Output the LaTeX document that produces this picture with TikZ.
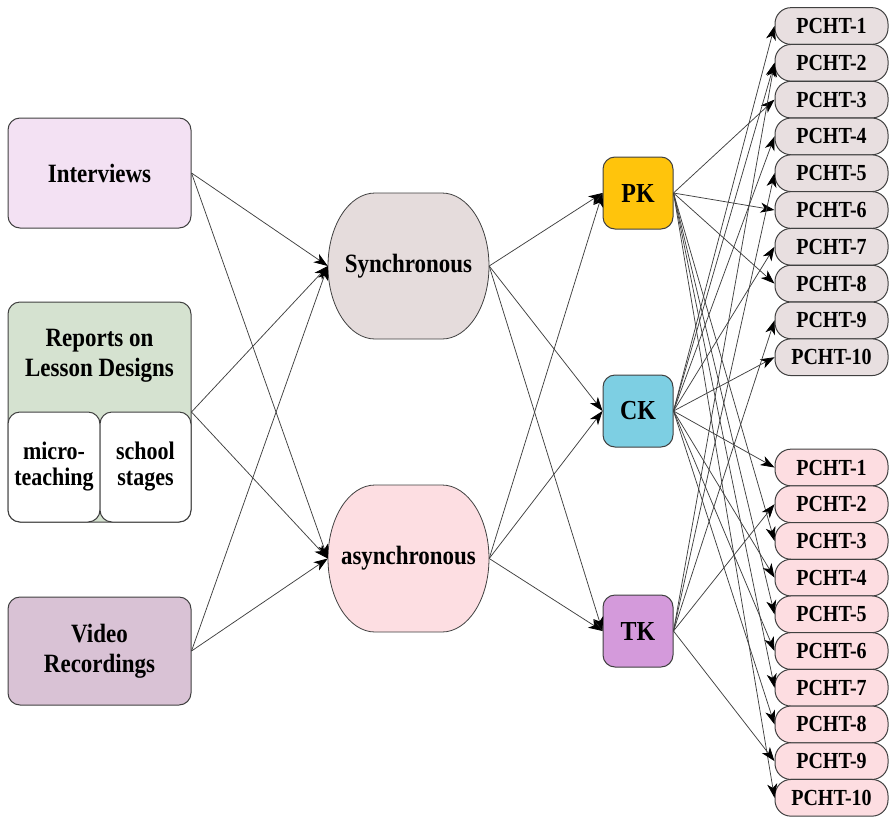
\documentclass[tikz,border=0pt]{standalone}
\usepackage{fontspec}
\setmainfont{Liberation Serif}
\newfontfamily\nfont[FakeStretch=0.87]{Liberation Serif}
\usetikzlibrary{arrows.meta}
\definecolor{cInt}{HTML}{F3E1F3}
\definecolor{cRep}{HTML}{D5E2D0}
\definecolor{cVid}{HTML}{D9C2D5}
\definecolor{cSync}{HTML}{E5DCDC}
\definecolor{cAsync}{HTML}{FDDEE2}
\definecolor{cTop}{HTML}{E8DFE0}
\definecolor{cBot}{HTML}{FDDDE1}
\definecolor{cPK}{HTML}{FFC40C}
\definecolor{cCK}{HTML}{7DCFE3}
\definecolor{cTK}{HTML}{D49ADB}
\definecolor{cLine}{HTML}{404040}
\tikzset{
  lbox/.style={draw=cLine, line width=1pt, rounded corners=12pt, align=center,
    inner sep=0pt, font=\nfont\bfseries\fontsize{26.4}{30}\selectfont},
  subbox/.style={draw=cLine, line width=1pt, rounded corners=12pt, fill=white, align=center,
    inner sep=0pt, minimum height=110pt, font=\nfont\bfseries\fontsize{25.3}{26}\selectfont},
  oval/.style={fill=#1, draw=cLine, line width=0.8pt},
  ovaltext/.style={minimum width=161pt, minimum height=146pt, inner sep=0pt,
    font=\nfont\bfseries\fontsize{26.4}{28}\selectfont},
  kbox/.style={draw=cLine, line width=1pt, rounded corners=12pt, minimum width=70pt,
    minimum height=72pt, inner sep=0pt, font=\nfont\bfseries\fontsize{27.5}{28}\selectfont},
  pcht/.style={draw=cLine, line width=1pt, rounded corners=16pt, minimum width=113pt,
    minimum height=36.7pt, inner sep=0pt, font=\nfont\bfseries\fontsize{23}{22}\selectfont},
  conn/.style={draw=cLine, line width=0.75pt, -{Stealth[length=14pt,width=10pt,inset=4pt,black]}}
}
\begin{document}
\begin{tikzpicture}[x=1pt,y=-1pt]
\useasboundingbox (0,0) rectangle (889,817);
% left boxes
\node[lbox, fill=cInt, minimum width=183pt, minimum height=110pt] (int) at (99.5,173) {Interviews};
\node[lbox, fill=cRep, minimum width=183pt, minimum height=220pt] (rep) at (99.5,412) {};
\node[align=center, inner sep=0pt, font=\nfont\bfseries\fontsize{26.4}{30}\selectfont] (reptext) at (99.5,356) {Reports on\\Lesson Designs};
\node[subbox, minimum width=92pt] (mt) at (54,467) {micro-\\teaching};
\node[subbox, minimum width=91pt] (st) at (145.5,467) {school\\stages};
\node[lbox, fill=cVid, minimum width=183pt, minimum height=108pt] (vid) at (99.5,651) {Video\\Recordings};
% synchronous / asynchronous shapes
\filldraw[oval=cSync] (375,193) -- (442,193) .. controls (468,193) and (489,225.7) .. (489,266)
  .. controls (489,306.3) and (468,339) .. (442,339) -- (375,339)
  .. controls (349,339) and (328,306.3) .. (328,266)
  .. controls (328,225.7) and (349,193) .. (375,193) -- cycle;
\node[ovaltext] (sync) at (408.5,266) {Synchronous};
\filldraw[oval=cAsync] (375,485) -- (442,485) .. controls (468,485) and (489,518) .. (489,558.5)
  .. controls (489,599) and (468,632) .. (442,632) -- (375,632)
  .. controls (349,632) and (328,599) .. (328,558.5)
  .. controls (328,518) and (349,485) .. (375,485) -- cycle;
\node[ovaltext] (async) at (408.5,558.5) {asynchronous};
% knowledge boxes
\node[kbox, fill=cPK] (pk) at (638,193) {PK};
\node[kbox, fill=cCK] (ck) at (638,411) {CK};
\node[kbox, fill=cTK] (tk) at (638,631) {TK};
% PCHT boxes
\foreach \i in {1,...,10} {
  \node[pcht, fill=cTop] (t\i) at (831.5,{26+(\i-1)*36.8}) {PCHT-\i};
  \node[pcht, fill=cBot] (b\i) at (831.5,{467.5+(\i-1)*36.7}) {PCHT-\i};
}
% connectors
\foreach \s in {int,rep,vid} \foreach \t in {sync,async} \draw[conn] (\s.east) -- (\t.west);
\foreach \s in {sync,async} \foreach \t in {pk,ck,tk} \draw[conn] (\s.east) -- (\t.west);
\foreach \t in {t3,t6,t8,b3,b5,b7,b10} \draw[conn] (pk.east) -- (\t.west);
\foreach \t in {t1,t2,t4,t7,t10,b1,b4,b6,b8} \draw[conn] (ck.east) -- (\t.west);
\foreach \t in {t2,t5,t9,b2,b9} \draw[conn] (tk.east) -- (\t.west);
\end{tikzpicture}
\end{document}
